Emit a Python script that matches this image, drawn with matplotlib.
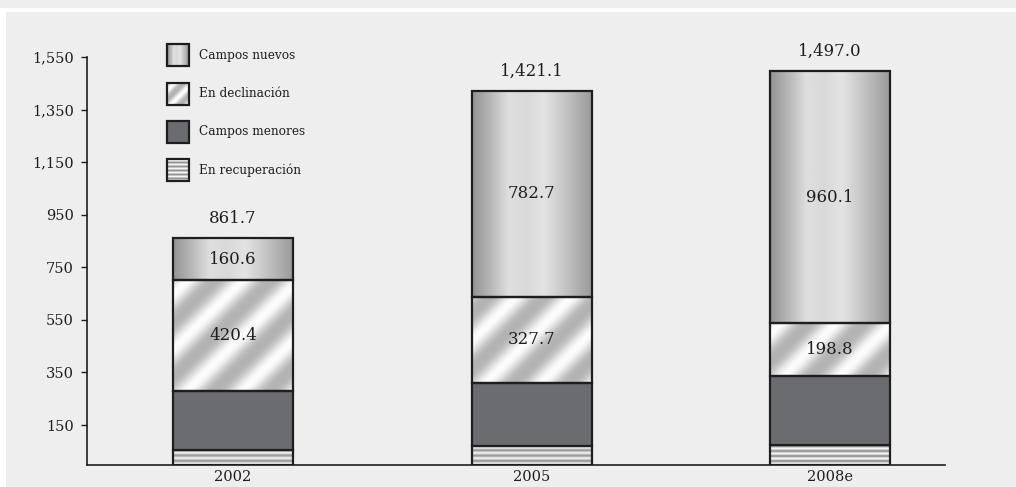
import matplotlib.pyplot as plt
from matplotlib.patches import Rectangle
import numpy as np

# Production by field type (values as printed on the chart)
years = ["2002", "2005", "2008e"]
series = ["Campos nuevos", "En declinación", "Campos menores", "En recuperación"]
recuperacion = [55.0, 70.0, 76.0]
menores = [225.7, 240.7, 262.1]
declinacion = [420.4, 327.7, 198.8]
nuevos = [160.6, 782.7, 960.1]
totals = [861.7, 1421.1, 1497.0]
yticks = [150, 350, 550, 750, 950, 1150, 1350, 1550]

BG = "#eeeeee"
EDGE = "#1e1e1e"
MENORES = "#6b6c70"
plt.rcParams["font.family"] = "DejaVu Serif"

W, H, DPI = 1016, 487, 100


def fill_gradient(w, h):
    # soft cylinder shading across the bar
    x = np.linspace(0, 1, max(w, 2))
    prof = np.interp(x, [0, 0.15, 0.3, 0.45, 0.6, 0.8, 1.0],
                     [0.58, 0.72, 0.87, 0.85, 0.89, 0.75, 0.60])
    return np.tile(prof, (max(h, 2), 1))


def fill_diagonal(w, h, period=55.0):
    yy, xx = np.mgrid[0:max(h, 2), 0:max(w, 2)]
    phase = 2 * np.pi * (xx - yy) / period
    s = 0.5 + 0.5 * np.sin(phase)
    return 0.70 + 0.29 * s ** 1.3


def fill_stripes(w, h, period=5.0):
    yy, xx = np.mgrid[0:max(h, 2), 0:max(w, 2)]
    return 0.77 + 0.19 * np.cos(2 * np.pi * yy / period)


fig = plt.figure(figsize=(W / DPI, H / DPI), dpi=DPI, facecolor=BG)

ax = fig.add_axes([87 / W, (H - 464.5) / H, (945 - 87) / W, (464.5 - 57) / H])
ax.set_facecolor(BG)

# overlay in pixel space for the frame strips and the legend
frame = fig.add_axes([0, 0, 1, 1], zorder=5)
frame.patch.set_alpha(0)
frame.axis("off")
fig.patches.append(Rectangle((0, (H - 12) / H), 1, 4 / H, color="white",
                             lw=0, transform=fig.transFigure, zorder=0))
fig.patches.append(Rectangle((0, 0), 6 / W, (H - 12) / H, color="white",
                             lw=0, transform=fig.transFigure, zorder=0))

xlim = (-0.489, 2.385)
ylim = (0, 1550)
x = np.arange(len(years))
bar_w = 0.402
px_per_unit = (464.5 - 57) / 1550
bar_px = int(round(bar_w * 298.5))

layers = [
    (recuperacion, fill_stripes),
    (menores, None),
    (declinacion, fill_diagonal),
    (nuevos, fill_gradient),
]

bottom = np.zeros(len(years))
for values, pattern in layers:
    for i, v in enumerate(values):
        x0 = x[i] - bar_w / 2
        if pattern is None:
            ax.bar(x[i], v, bar_w, bottom=bottom[i], color=MENORES,
                   edgecolor=EDGE, linewidth=1.6, zorder=3)
        else:
            img = pattern(bar_px, int(round(v * px_per_unit)))
            ax.imshow(img, cmap="gray", vmin=0, vmax=1, origin="lower",
                      extent=(x0, x0 + bar_w, bottom[i], bottom[i] + v),
                      aspect="auto", interpolation="bilinear", zorder=2)
            ax.bar(x[i], v, bar_w, bottom=bottom[i], fill=False,
                   edgecolor=EDGE, linewidth=1.6, zorder=3)
    bottom += np.array(values)

# labels inside the two upper segments
base = np.array(recuperacion) + np.array(menores)
for i in range(len(years)):
    ax.text(x[i], base[i] + declinacion[i] / 2, f"{declinacion[i]:.1f}",
            ha="center", va="center", fontsize=12, color=EDGE, zorder=4)
    top0 = base[i] + declinacion[i]
    ax.text(x[i], top0 + nuevos[i] / 2, f"{nuevos[i]:.1f}",
            ha="center", va="center", fontsize=12, color=EDGE, zorder=4)
    ax.annotate(f"{totals[i]:,.1f}", (x[i], totals[i]), xytext=(0, 8),
                textcoords="offset points", ha="center", va="bottom",
                fontsize=12, color=EDGE, annotation_clip=False)

ax.set_xlim(*xlim)
ax.set_ylim(*ylim)
ax.set_xticks(x)
ax.set_xticklabels(years)
ax.set_yticks(yticks)
ax.set_yticklabels([f"{t:,}" for t in yticks])
ax.tick_params(axis="x", length=0, pad=4, labelsize=10.5, colors=EDGE)
ax.tick_params(axis="y", length=4.5, width=1, pad=5, labelsize=10.5, colors=EDGE)
for side in ["top", "right"]:
    ax.spines[side].set_visible(False)
for side in ["left", "bottom"]:
    ax.spines[side].set_color(EDGE)
    ax.spines[side].set_linewidth(1.2)

# legend drawn by hand in pixel space
fills = [fill_gradient, fill_diagonal, None, fill_stripes]
for k, (name, pattern) in enumerate(zip(series, fills)):
    bx, by, bs = 167, 44.3 + k * 38.2, 22
    if pattern is None:
        frame.add_patch(Rectangle((bx, by), bs, bs, facecolor=MENORES,
                                  edgecolor=EDGE, lw=1.6, zorder=3))
    else:
        if pattern is fill_diagonal:
            img = pattern(bs, bs, 18.0)
        elif pattern is fill_stripes:
            img = pattern(bs, bs, 4.0)
        else:
            img = pattern(bs, bs)
        frame.imshow(img, cmap="gray", vmin=0, vmax=1, origin="lower",
                     extent=(bx, bx + bs, by + bs, by), aspect="auto",
                     interpolation="bilinear", zorder=2)
        frame.add_patch(Rectangle((bx, by), bs, bs, fill=False,
                                  edgecolor=EDGE, lw=1.6, zorder=3))
    frame.text(bx + 32, by + bs / 2, name, ha="left", va="center",
               fontsize=8.7, color=EDGE)
frame.set_xlim(0, W)
frame.set_ylim(H, 0)

fig.savefig("out.png", dpi=DPI, facecolor=BG)
